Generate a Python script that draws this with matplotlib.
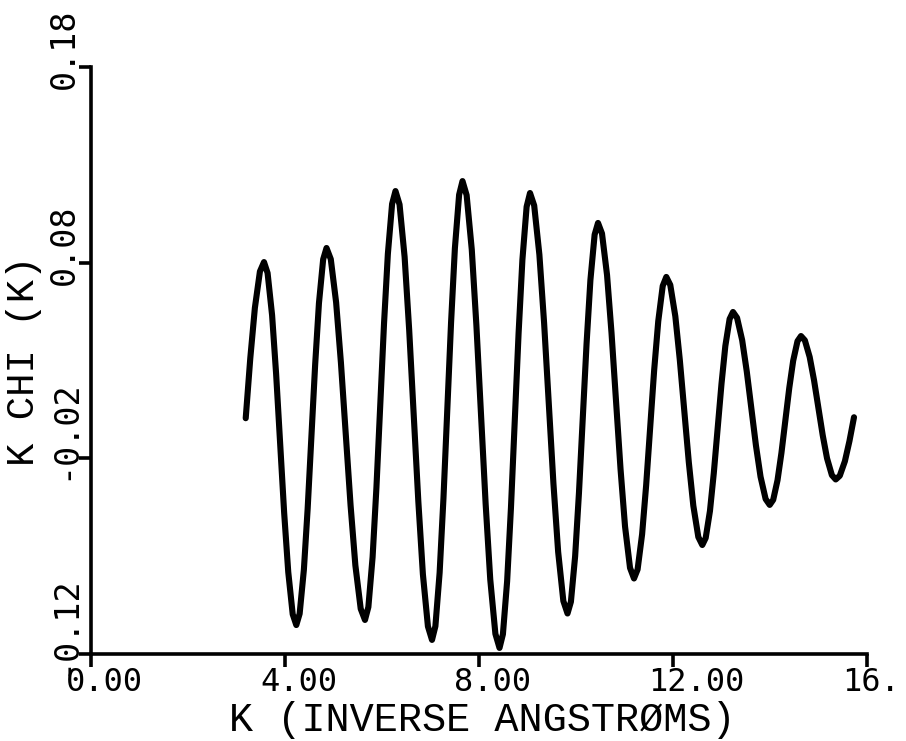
import matplotlib
matplotlib.use("Agg")
import matplotlib.pyplot as plt
from matplotlib.transforms import ScaledTranslation

# ---- data ----
k_vals = [
    3.190, 3.284, 3.379, 3.483,
    3.567, 3.641, 3.734, 3.817, 3.900, 3.983, 4.067, 4.159,
    4.233, 4.302, 4.389, 4.467, 4.545, 4.622, 4.700, 4.787,
    4.856, 4.944, 5.054, 5.153, 5.253, 5.352, 5.451, 5.561,
    5.649, 5.719, 5.806, 5.885, 5.964, 6.042, 6.121, 6.208,
    6.278, 6.362, 6.466, 6.560, 6.655, 6.749, 6.843, 6.947,
    7.031, 7.101, 7.188, 7.267, 7.346, 7.424, 7.503, 7.590,
    7.660, 7.745, 7.851, 7.946, 8.042, 8.137, 8.232, 8.338,
    8.423, 8.493, 8.580, 8.659, 8.738, 8.816, 8.895, 8.982,
    9.052, 9.138, 9.245, 9.342, 9.439, 9.535, 9.632, 9.739,
    9.825, 9.895, 9.982, 10.061, 10.140, 10.218, 10.297, 10.384,
    10.454, 10.536, 10.640, 10.732, 10.825, 10.918, 11.011, 11.114,
    11.196, 11.270, 11.363, 11.446, 11.529, 11.612, 11.696, 11.788,
    11.862, 11.944, 12.048, 12.140, 12.233, 12.326, 12.419, 12.522,
    12.604, 12.674, 12.762, 12.841, 12.921, 13.000, 13.079, 13.167,
    13.237, 13.321, 13.426, 13.521, 13.616, 13.710, 13.805, 13.910,
    13.994, 14.066, 14.155, 14.236, 14.317, 14.397, 14.478, 14.567,
    14.639, 14.719, 14.818, 14.908, 14.997, 15.087, 15.176, 15.276,
    15.355, 15.439, 15.544, 15.638, 15.732,
]
chi_vals = [
    0.0005, 0.0311, 0.0569, 0.0755,
    0.0803, 0.0747, 0.0531, 0.0231, -0.0125, -0.0480, -0.0781, -0.0997,
    -0.1052, -0.0994, -0.0770, -0.0458, -0.0089, 0.0280, 0.0593, 0.0817,
    0.0875, 0.0818, 0.0597, 0.0289, -0.0076, -0.0440, -0.0747, -0.0969,
    -0.1026, -0.0960, -0.0705, -0.0350, 0.0070, 0.0490, 0.0845, 0.1100,
    0.1166, 0.1097, 0.0830, 0.0458, 0.0019, -0.0420, -0.0792, -0.1059,
    -0.1128, -0.1058, -0.0785, -0.0405, 0.0045, 0.0494, 0.0874, 0.1147,
    0.1217, 0.1145, 0.0867, 0.0481, 0.0024, -0.0433, -0.0819, -0.1097,
    -0.1169, -0.1099, -0.0828, -0.0452, -0.0007, 0.0438, 0.0815, 0.1086,
    0.1156, 0.1092, 0.0841, 0.0493, 0.0082, -0.0330, -0.0678, -0.0929,
    -0.0993, -0.0933, -0.0701, -0.0377, 0.0005, 0.0387, 0.0711, 0.0943,
    0.1003, 0.0949, 0.0737, 0.0442, 0.0095, -0.0254, -0.0548, -0.0760,
    -0.0814, -0.0768, -0.0588, -0.0339, -0.0044, 0.0252, 0.0501, 0.0681,
    0.0727, 0.0686, 0.0526, 0.0304, 0.0042, -0.0220, -0.0442, -0.0602,
    -0.0643, -0.0607, -0.0469, -0.0276, -0.0048, 0.0181, 0.0374, 0.0512,
    0.0548, 0.0518, 0.0404, 0.0244, 0.0055, -0.0134, -0.0294, -0.0408,
    -0.0438, -0.0412, -0.0312, -0.0172, -0.0007, 0.0159, 0.0299, 0.0399,
    0.0425, 0.0403, 0.0318, 0.0199, 0.0059, -0.0082, -0.0200, -0.0286,
    -0.0308, -0.0289, -0.0215, -0.0112, 0.0010,
]

x_ticks = [0, 4, 8, 12, 16]
x_tick_labels = ["0.00", "4.00", "8.00", "12.00", "16."]
y_ticks = [-0.12, -0.02, 0.08, 0.18]
y_tick_labels = ["-0.12", "-0.02", "0.08", "0.18"]
x_label = "K (INVERSE ANGSTRØMS)"
y_label = "K CHI (K)"

TICK_FONT = "DejaVu Sans Mono"
LABEL_FONT = "Liberation Mono"

fig = plt.figure(figsize=(9.06, 7.41), dpi=100)
ax = fig.add_axes([91 / 906, 87 / 741, 776 / 906, 587 / 741])

ax.plot(k_vals, chi_vals, color="black", lw=4.4,
        solid_capstyle="round", solid_joinstyle="round")

ax.set_xlim(0, 16)
ax.set_ylim(-0.12, 0.18)

for s in ("top", "right"):
    ax.spines[s].set_visible(False)
for s in ("left", "bottom"):
    ax.spines[s].set_linewidth(2.6)
    ax.spines[s].set_capstyle("projecting")

ax.set_xticks(x_ticks, x_tick_labels, fontfamily=TICK_FONT, fontsize=23)
ax.set_yticks(y_ticks, y_tick_labels, fontfamily=TICK_FONT, fontsize=24)
ax.tick_params(axis="both", direction="out", length=9, width=2.6, color="black")
ax.tick_params(axis="x", pad=0.5)
ax.tick_params(axis="y", pad=3)

# x tick labels: left-aligned a little left of each tick
dx = ScaledTranslation(-25 / 100, 0, fig.dpi_scale_trans)
for lab in ax.get_xticklabels():
    lab.set_horizontalalignment("left")
    lab.set_transform(lab.get_transform() + dx)

# y tick labels: rotated, starting a little below each tick
dy = ScaledTranslation(0, -22 / 100, fig.dpi_scale_trans)
for lab in ax.get_yticklabels():
    lab.set_rotation(90)
    lab.set_rotation_mode("anchor")
    lab.set_horizontalalignment("left")
    lab.set_verticalalignment("baseline")
    lab.set_transform(lab.get_transform() + dy)

ax.set_xlabel(x_label, fontfamily=LABEL_FONT, fontsize=29, va="baseline")
ax.xaxis.set_label_coords(0.504, -0.1312)
ax.set_ylabel(y_label, fontfamily=LABEL_FONT, fontsize=28, va="baseline")
ax.yaxis.set_label_coords(-0.073, 0.5)

fig.savefig("out.png", dpi=100, facecolor="white")
